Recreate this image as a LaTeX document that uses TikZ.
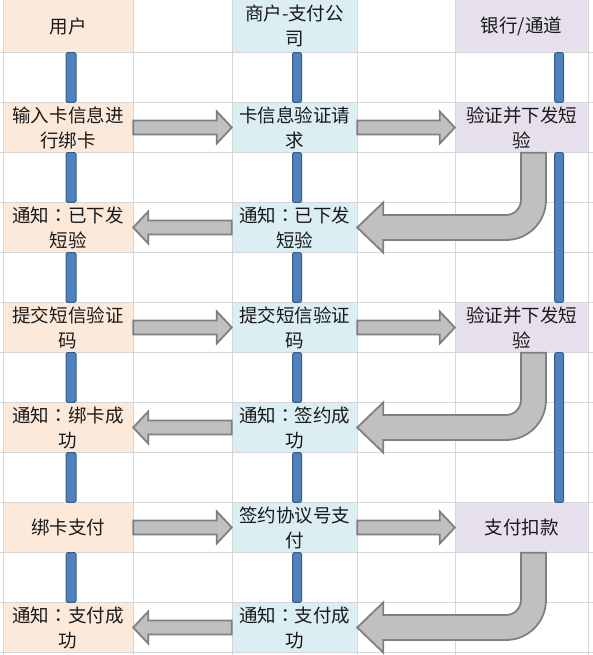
\documentclass[tikz,border=0pt]{standalone}
\usepackage{fontspec}
\newfontfamily\cjk{Noto Sans CJK SC}
\newfontfamily\cjkjp{Noto Sans CJK JP}
\newcommand\fcolon{{\cjkjp ：}}
\usetikzlibrary{calc}

\definecolor{userpeach}{HTML}{FDE9D9}
\definecolor{mercblue}{HTML}{DAEEF3}
\definecolor{banklav}{HTML}{E5E0EC}
\definecolor{gridgray}{HTML}{D6D6D6}
\definecolor{barblue}{HTML}{4F81BD}
\definecolor{baredge}{HTML}{385D8A}
\definecolor{arrowfill}{HTML}{C0C0C0}
\definecolor{arrowedge}{HTML}{808080}

\tikzset{
  gridcell/.style={minimum height=50pt, inner sep=0pt, align=center, text=black!90,
    font=\cjk\fontsize{18.5pt}{25pt}\selectfont},
  usercell/.style={gridcell, fill=userpeach, minimum width=130pt},
  merccell/.style={gridcell, fill=mercblue, minimum width=125pt},
  bankcell/.style={gridcell, fill=banklav, minimum width=133pt},
  gridline/.style={draw=gridgray, line width=0.8pt},
  lifebar/.style={draw=baredge, fill=barblue, line width=1pt, rounded corners=1.5pt},
  % straight block arrow, left or right
  flatarrow/.style={draw=arrowedge, fill=arrowfill, line width=1.8pt,
    to path={let \p1=(\tikztostart), \p2=(\tikztotarget), \n1={sign(\x2-\x1)} in
      (\x1,{\y1+7pt}) -- ({\x2-\n1*15pt},{\y1+7pt}) -- ({\x2-\n1*15pt},{\y1+16pt})
      -- (\x2,\y1) -- ({\x2-\n1*15pt},{\y1-16pt}) -- ({\x2-\n1*15pt},{\y1-7pt})
      -- (\x1,{\y1-7pt}) -- cycle}},
  % block arrow going down, then bending to the left
  bentarrow/.style={draw=arrowedge, fill=arrowfill, line width=1.8pt,
    to path={let \p1=(\tikztostart), \p2=(\tikztotarget) in
      ({\x1-12.5pt},\y1) -- ({\x1-12.5pt},{\y2+27.5pt})
      .. controls ({\x1-12.5pt},{\y2+19.2pt}) and ({\x1-19.2pt},{\y2+12.5pt}) .. ({\x1-27.5pt},{\y2+12.5pt})
      -- ({\x2+26pt},{\y2+12.5pt}) -- ({\x2+26pt},{\y2+25pt}) -- (\x2,\y2)
      -- ({\x2+26pt},{\y2-25pt}) -- ({\x2+26pt},{\y2-12.5pt}) -- ({\x1-27.5pt},{\y2-12.5pt})
      .. controls ({\x1-5.4pt},{\y2-12.5pt}) and ({\x1+12.5pt},{\y2+5.4pt}) .. ({\x1+12.5pt},{\y2+27.5pt})
      -- ({\x1+12.5pt},\y1) -- cycle}}
}

\begin{document}
\begin{tikzpicture}[x=1pt, y=-1pt]
    \useasboundingbox (0,0) rectangle (593,655);

    % Header row
    \node[usercell, minimum height=52.5pt] (u0) at (68,26.25) {用户};
    \node[merccell, minimum height=52.5pt] (m0) at (294.5,26.25) {商户-支付公\\司};
    \node[bankcell, minimum height=52.5pt] (b0) at (521.5,26.25) {银行/通道};

    % Bind the card
    \node[usercell] (u2) at (68,127.5) {输入卡信息进\\行绑卡};
    \node[merccell] (m2) at (294.5,127.5) {卡信息验证请\\求};
    \node[bankcell] (b2) at (521.5,127.5) {验证并下发短\\验};
    \node[usercell] (u4) at (68,227.5) {通知\fcolon 已下发\\短验};
    \node[merccell] (m4) at (294.5,227.5) {通知\fcolon 已下发\\短验};

    % Confirm the SMS code
    \node[usercell] (u6) at (68,327.5) {提交短信验证\\码};
    \node[merccell] (m6) at (294.5,327.5) {提交短信验证\\码};
    \node[bankcell] (b6) at (521.5,327.5) {验证并下发短\\验};
    \node[usercell] (u8) at (68,427.5) {通知\fcolon 绑卡成\\功};
    \node[merccell] (m8) at (294.5,427.5) {通知\fcolon 签约成\\功};

    % Pay
    \node[usercell] (u10) at (68,527.5) {绑卡支付};
    \node[merccell] (m10) at (294.5,527.5) {签约协议号支\\付};
    \node[bankcell] (b10) at (521.5,527.5) {支付扣款};
    \node[usercell] (u12) at (68,627.5) {通知\fcolon 支付成\\功};
    \node[merccell] (m12) at (294.5,627.5) {通知\fcolon 支付成\\功};

    % Sheet grid
    \foreach \x in {3,133,232,357,455,588}
        \draw[gridline] (\x,0) -- (\x,655);
    \foreach \y in {52.5,102.5,...,652.5}
        \draw[gridline] (0,\y) -- (593,\y);

    % Lifelines
    \foreach \a/\b in {0/2,2/4,4/6,6/8,8/10,10/12} {
        \draw[lifebar] ([xshift=-2pt]u\a.south) rectangle ([xshift=8pt]u\b.north);
        \draw[lifebar] ([xshift=-2pt]m\a.south) rectangle ([xshift=7pt]m\b.north);
    }
    \foreach \a/\b in {0/2,2/6,6/10}
        \draw[lifebar] ([xshift=33pt]b\a.south) rectangle ([xshift=42pt]b\b.north);

    % Messages
    \foreach \r/\s in {2/4,6/8,10/12} {
        \draw[flatarrow] (u\r.east) to (m\r.west);
        \draw[flatarrow] (m\r.east) to (b\r.west);
        \draw[bentarrow] ([xshift=12pt]b\r.south) to (m\s.east);
        \draw[flatarrow] (m\s.west) to (u\s.east);
    }

\end{tikzpicture}
\end{document}
